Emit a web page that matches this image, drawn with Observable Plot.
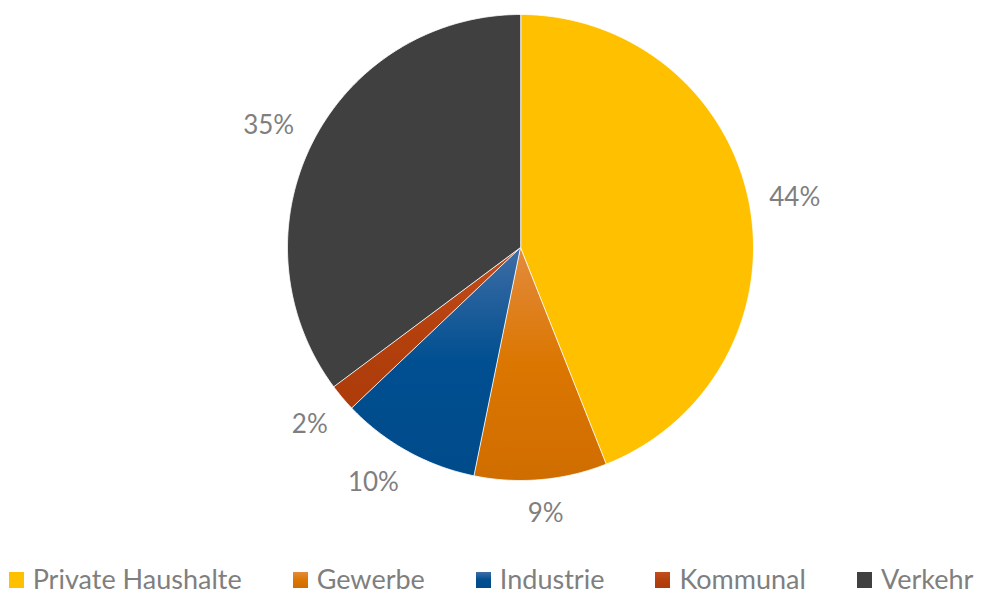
<!DOCTYPE html>
<html>
<head>
<meta charset="utf-8">
<script src="https://cdn.jsdelivr.net/npm/d3@7"></script>
<script src="https://cdn.jsdelivr.net/npm/@observablehq/plot@0.6"></script>
<style>
  html, body { margin: 0; padding: 0; background: #fff; }
  body { width: 982px; height: 594px; overflow: hidden; position: relative; font-family: Lato, "Noto Sans", sans-serif; }
  #chart { position: absolute; left: 0; top: 0; }
  #legend { position: absolute; left: 0; top: 562px; width: 982px;
            display: flex; justify-content: center; align-items: center; gap: 51px;
            color: #7f7f7f; font-size: 27px; line-height: normal; }
  .item { display: flex; align-items: center; white-space: nowrap; }
  .sw { width: 15px; height: 16px; margin-right: 9px; flex: none; position: relative; top: 1px; }
</style>
</head>
<body>
<div id="chart"></div>
<div id="legend"></div>
<script>
// ---- data ----
const categories = ["Private Haushalte", "Gewerbe", "Industrie", "Kommunal", "Verkehr"];
const shares = [44.0, 9.2, 9.7, 1.9, 35.2];
// colours (top / middle / bottom of the vertical gradient)
const lightColors = ["#FFC000", "#E38B3E", "#3F6DA5", "#C24E1E", "#404040"];
const baseColors  = ["#FFC000", "#DB7600", "#004F91", "#B3400D", "#404040"];
const darkColors  = ["#FFC000", "#D06D00", "#004B8A", "#AD3C0A", "#404040"];

// ---- layout ----
const W = 982, H = 545, CX = 520, CY = 247, R = 233;
const FS = 26, CHAR_W = 16.5, BOX_H = 22, GAP = 21;
const gradIds = categories.map((c, i) => `slice-grad-${i}`);

const total = d3.sum(shares);
let acc = 0;
const slices = categories.map((c, i) => {
  const a0 = acc / total * 2 * Math.PI;
  acc += shares[i];
  const a1 = acc / total * 2 * Math.PI;
  return {category: c, value: shares[i], a0, a1, mid: (a0 + a1) / 2,
          label: Math.round(shares[i] / total * 100) + "%"};
});

function wedge(s) {
  const pts = [[0, 0]];
  const n = Math.max(2, Math.ceil((s.a1 - s.a0) / (Math.PI / 360)));
  for (let k = 0; k <= n; k++) {
    const a = s.a0 + (s.a1 - s.a0) * k / n;
    pts.push([Math.sin(a), -Math.cos(a)]);
  }
  pts.push([0, 0]);
  return {type: "Feature", properties: s, geometry: {type: "Polygon", coordinates: [pts]}};
}
const features = slices.map(wedge);

const clamp = v => Math.max(-1, Math.min(1, v));
const labelData = slices.map(s => {
  const ux = Math.sin(s.mid), uy = -Math.cos(s.mid);
  const w = CHAR_W * s.label.length;
  return {
    label: s.label,
    x: ux * (R + GAP) / R + clamp(2 * ux) * (w / 2) / R,
    y: uy * (R + GAP) / R + clamp(2 * uy) * (BOX_H / 2) / R
  };
});

const chart = Plot.plot({
  width: W, height: H,
  margin: 0,
  projection: d3.geoIdentity().scale(R).translate([CX, CY]),
  color: {domain: categories, range: gradIds.map(id => `url(#${id})`)},
  style: {background: "white", fontFamily: "Lato, 'Noto Sans', sans-serif"},
  marks: [
    Plot.geo(features, {fill: d => d.properties.category, stroke: "white", strokeWidth: 0.8}),
    Plot.text(labelData, {x: "x", y: "y", text: "label", fontSize: FS, fill: "#7f7f7f",
                          textAnchor: "middle", lineAnchor: "middle", dy: 2})
  ]
});

// gradients
const defs = d3.select(chart).insert("defs", ":first-child");
gradIds.forEach((id, i) => {
  const g = defs.append("linearGradient").attr("id", id)
    .attr("x1", 0).attr("y1", 0).attr("x2", 0).attr("y2", 1);
  g.append("stop").attr("offset", "0%").attr("stop-color", lightColors[i]);
  g.append("stop").attr("offset", "50%").attr("stop-color", baseColors[i]);
  g.append("stop").attr("offset", "100%").attr("stop-color", darkColors[i]);
});
document.getElementById("chart").appendChild(chart);

// legend
const legend = d3.select("#legend");
categories.forEach((c, i) => {
  const it = legend.append("div").attr("class", "item");
  it.append("span").attr("class", "sw")
    .style("background", `linear-gradient(to bottom, ${lightColors[i]}, ${baseColors[i]} 50%, ${darkColors[i]})`);
  it.append("span").text(c);
});
</script>
</body>
</html>
